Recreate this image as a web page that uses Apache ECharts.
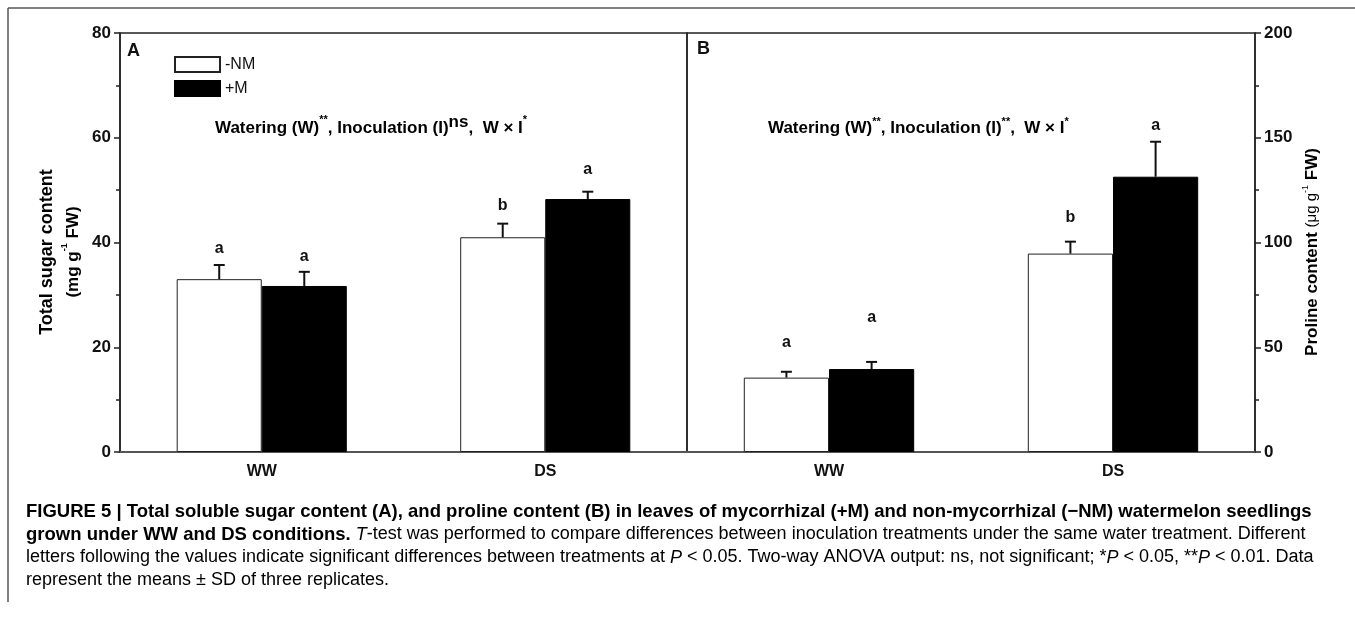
<!DOCTYPE html>
<html>
<head>
<meta charset="utf-8">
<script src="https://cdn.jsdelivr.net/npm/echarts@6/dist/echarts.min.js"></script>
<style>
  html, body { margin: 0; padding: 0; background: #fff; }
  #chart { width: 1355px; height: 621px; }
</style>
</head>
<body>
<div id="chart"></div>
<script>
// categories and values
const categories = ['WW', 'DS'];

const sugarNM = [33.0, 41.0];
const sugarNMsd = [2.7, 2.6];
const sugarM = [31.7, 48.3];
const sugarMsd = [2.7, 1.4];

const prolineNM = [35.5, 94.7];
const prolineNMsd = [2.8, 5.7];
const prolineM = [39.6, 131.4];
const prolineMsd = [3.4, 16.7];

// significance letters and the value height they sit at
const sugarNMletters = ['a', 'b'];
const sugarMletters = ['a', 'a'];
const prolineNMletters = ['a', 'b'];
const prolineMletters = ['a', 'a'];
const sugarNMletterAt = [38.9, 47.0];
const sugarMletterAt = [37.4, 54.0];
const prolineNMletterAt = [52.2, 111.7];
const prolineMletterAt = [64.1, 155.8];

const sugarTicks = { min: 0, max: 80, interval: 20 };
const prolineTicks = { min: 0, max: 200, interval: 50 };

const FONT = 'Liberation Sans, Arial, sans-serif';

function errData(nm, nmSd, nmAt, m, mSd, mAt) {
    let out = [];
    categories.forEach((c, i) => {
        out.push([i, nm[i], nmSd[i], -1, nmAt[i]]);
        out.push([i, m[i], mSd[i], 1, mAt[i]]);
    });
    return out;
}
function letterList(nmL, mL) {
    let out = [];
    categories.forEach((c, i) => { out.push(nmL[i]); out.push(mL[i]); });
    return out;
}

function errSeries(idx, data, letters) {
    return {
        type: 'custom',
        xAxisIndex: idx,
        yAxisIndex: idx,
        z: 5,
        silent: true,
        data: data,
        renderItem: function (params, api) {
            const band = api.size([1, 0])[0];
            const cat = api.value(0);
            const x = api.coord([cat, 0])[0] + api.value(3) * band * 0.15;
            const yTop = api.coord([cat, api.value(1)])[1];
            const yErr = api.coord([cat, api.value(1) + api.value(2)])[1];
            const yLet = api.coord([cat, api.value(4)])[1];
            return {
                type: 'group',
                children: [
                    { type: 'line', shape: { x1: x, y1: yTop, x2: x, y2: yErr }, style: { stroke: '#111', lineWidth: 2 } },
                    { type: 'line', shape: { x1: x - 5.5, y1: yErr, x2: x + 5.5, y2: yErr }, style: { stroke: '#111', lineWidth: 2 } },
                    { type: 'text', x: x, y: yLet, style: { text: letters[params.dataIndex], fill: '#111', font: 'bold 16px ' + FONT, align: 'center', verticalAlign: 'middle' } }
                ]
            };
        }
    };
}

function yAxisFor(idx, ticks, pos) {
    return {
        type: 'value',
        gridIndex: idx,
        position: pos,
        min: ticks.min, max: ticks.max, interval: ticks.interval,
        axisLine: { show: true, lineStyle: { color: '#222', width: 1.5 } },
        axisTick: { show: true, inside: false, length: 6, lineStyle: { color: '#222', width: 1.5 } },
        minorTick: { show: true, splitNumber: 2, length: 4, lineStyle: { color: '#222', width: 1.5 } },
        splitLine: { show: false },
        axisLabel: { color: '#111', fontSize: 17, fontWeight: 'bold', fontFamily: FONT, margin: 9 }
    };
}

function xAxisFor(idx) {
    return {
        type: 'category',
        gridIndex: idx,
        data: categories,
        axisLine: { show: true, lineStyle: { color: '#555', width: 2 } },
        axisTick: { show: false },
        axisLabel: { color: '#111', fontSize: 16, fontWeight: 'bold', fontFamily: FONT, margin: 12 }
    };
}

const supRich = {
    t: { fontSize: 17, fontWeight: 'bold', fontFamily: FONT, color: '#111', lineHeight: 24 },
    s: { fontSize: 11, fontWeight: 'bold', fontFamily: FONT, color: '#111', verticalAlign: 'top', lineHeight: 24 },
    ns: { fontSize: 17, fontWeight: 'bold', fontFamily: FONT, color: '#111', verticalAlign: 'top', lineHeight: 28 }
};

const captionRich = {
    b: { fontSize: 18.5, fontWeight: 'bold', fontFamily: FONT, color: '#1a1a1a', lineHeight: 23 },
    n: { fontSize: 18, fontFamily: FONT, color: '#3a3a3a', lineHeight: 23 },
    i: { fontSize: 18, fontStyle: 'italic', fontFamily: FONT, color: '#3a3a3a', lineHeight: 23 }
};

const chart = echarts.init(document.getElementById('chart'), null, { renderer: 'canvas' });

const option = {
    backgroundColor: '#fff',
    animation: false,
    legend: {
        orient: 'vertical',
        left: 174, top: 56,
        padding: 0,
        itemWidth: 45, itemHeight: 15, itemGap: 7,
        icon: 'rect',
        selectedMode: false,
        data: ['-NM', '+M'],
        textStyle: { color: '#111', fontSize: 16, fontFamily: FONT }
    },
    grid: [
        { left: 120, top: 33, width: 567, height: 419, show: true, borderColor: '#222', borderWidth: 1.5, backgroundColor: 'transparent' },
        { left: 687, top: 33, width: 568, height: 419, show: true, borderColor: '#222', borderWidth: 1.5, backgroundColor: 'transparent' }
    ],
    xAxis: [xAxisFor(0), xAxisFor(1)],
    yAxis: [yAxisFor(0, sugarTicks, 'left'), yAxisFor(1, prolineTicks, 'right')],
    series: [
        { name: '-NM', type: 'bar', xAxisIndex: 0, yAxisIndex: 0, data: sugarNM, barWidth: '30%', barGap: '0%',
          itemStyle: { color: '#fff', borderColor: '#222', borderWidth: 1 } },
        { name: '+M', type: 'bar', xAxisIndex: 0, yAxisIndex: 0, data: sugarM, barWidth: '30%', barGap: '0%',
          itemStyle: { color: '#000', borderColor: '#000', borderWidth: 1 } },
        { name: '-NM', type: 'bar', xAxisIndex: 1, yAxisIndex: 1, data: prolineNM, barWidth: '30%', barGap: '0%',
          itemStyle: { color: '#fff', borderColor: '#222', borderWidth: 1 } },
        { name: '+M', type: 'bar', xAxisIndex: 1, yAxisIndex: 1, data: prolineM, barWidth: '30%', barGap: '0%',
          itemStyle: { color: '#000', borderColor: '#000', borderWidth: 1 } },
        errSeries(0, errData(sugarNM, sugarNMsd, sugarNMletterAt, sugarM, sugarMsd, sugarMletterAt), letterList(sugarNMletters, sugarMletters)),
        errSeries(1, errData(prolineNM, prolineNMsd, prolineNMletterAt, prolineM, prolineMsd, prolineMletterAt), letterList(prolineNMletters, prolineMletters))
    ],
    graphic: [
        // outer figure frame (top and left)
        { type: 'line', shape: { x1: 8, y1: 8, x2: 1355, y2: 8 }, style: { stroke: '#555', lineWidth: 1.5 } },
        { type: 'line', shape: { x1: 8, y1: 8, x2: 8, y2: 602 }, style: { stroke: '#555', lineWidth: 1.5 } },
        // panel letters
        { type: 'text', x: 127, y: 51, style: { text: 'A', font: 'bold 18px ' + FONT, fill: '#111', verticalAlign: 'middle' } },
        { type: 'text', x: 697, y: 49, style: { text: 'B', font: 'bold 18px ' + FONT, fill: '#111', verticalAlign: 'middle' } },
        // ANOVA annotations
        { type: 'text', x: 215, y: 128, style: { text: '{t|Watering (W)}{s|**}{t|, Inoculation (I)}{ns|ns}{t|,  W × I}{s|*}', rich: supRich, verticalAlign: 'middle' } },
        { type: 'text', x: 768, y: 128, style: { text: '{t|Watering (W)}{s|**}{t|, Inoculation (I)}{s|**}{t|,  W × I}{s|*}', rich: supRich, verticalAlign: 'middle' } },
        // left axis title
        { type: 'text', x: 60, y: 252, rotation: Math.PI / 2,
          style: { text: '{a|Total sugar content}\n{b|(mg g}{s|-1}{b| FW)}', align: 'center', verticalAlign: 'middle',
            rich: {
                a: { fontSize: 18, fontWeight: 'bold', fontFamily: FONT, color: '#111', lineHeight: 26, align: 'center' },
                b: { fontSize: 17, fontWeight: 'bold', fontFamily: FONT, color: '#111', lineHeight: 26, align: 'center' },
                s: { fontSize: 9, fontWeight: 'bold', fontFamily: FONT, color: '#111', lineHeight: 26, verticalAlign: 'top' }
            } } },
        // right axis title
        { type: 'text', x: 1312, y: 252, rotation: Math.PI / 2,
          style: { text: '{a|Proline content }{b|(μg g}{s|-1}{c| FW)}', align: 'center', verticalAlign: 'middle',
            rich: {
                a: { fontSize: 17, fontWeight: 'bold', fontFamily: FONT, color: '#111', lineHeight: 22 },
                b: { fontSize: 15, fontFamily: FONT, color: '#111', lineHeight: 22 },
                s: { fontSize: 9, fontFamily: FONT, color: '#111', lineHeight: 22, verticalAlign: 'top' },
                c: { fontSize: 17, fontWeight: 'bold', fontFamily: FONT, color: '#111', lineHeight: 22 }
            } } },
        // figure caption
        { type: 'text', x: 26, y: 500,
          style: {
            text: '{b|FIGURE 5 | Total soluble sugar content (A), and proline content (B) in leaves of mycorrhizal (+M) and non-mycorrhizal (−NM) watermelon seedlings}\n' +
                  '{b|grown under WW and DS conditions.}{n| }{i|T}{n|-test was performed to compare differences between inoculation treatments under the same water treatment. Different}\n' +
                  '{n|letters following the values indicate significant differences between treatments at }{i|P}{n| < 0.05. Two-way ANOVA output: ns, not significant; *}{i|P}{n| < 0.05, **}{i|P}{n| < 0.01. Data}\n' +
                  '{n|represent the means ± SD of three replicates.}',
            rich: captionRich
          } }
    ]
};

chart.setOption(option);
</script>
</body>
</html>
